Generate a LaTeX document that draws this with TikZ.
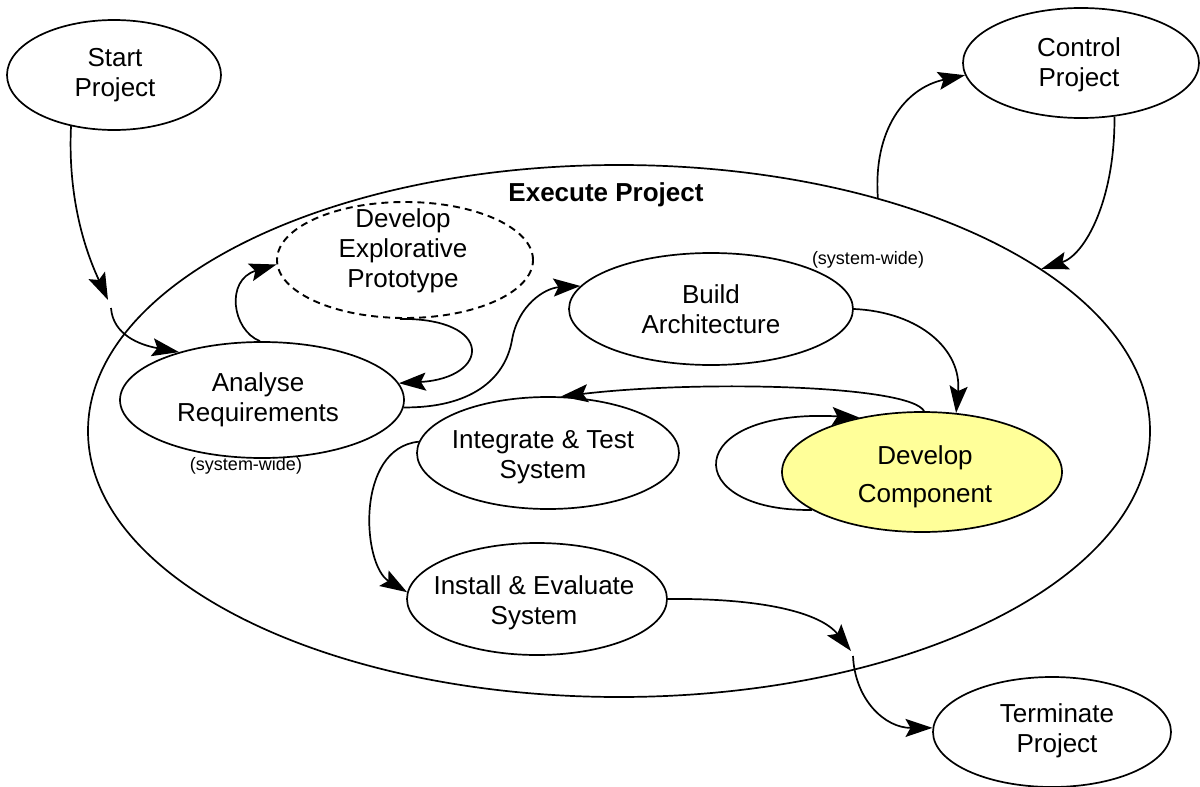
\documentclass[tikz,border=0pt]{standalone}
\usepackage{fontspec}
\setmainfont{Liberation Sans}
\usetikzlibrary{arrows.meta,shapes.geometric}
\definecolor{compyellow}{HTML}{FFFF99}
\begin{document}
\begin{tikzpicture}[x=1pt,y=-1pt,
  proc/.style={draw, ellipse, line width=1.7pt, fill=white, inner sep=0pt},
  lbl/.style={align=center, font=\fontsize{26}{30}\selectfont, inner sep=0pt},
  note/.style={font=\fontsize{18}{22}\selectfont, inner sep=0pt},
  flow/.style={line width=1.7pt, -{Stealth[length=27pt,width=18pt,inset=5pt]}}]
\useasboundingbox (0,0) rectangle (1200,787);

% enclosing process
\node[draw, ellipse, line width=1.7pt, inner sep=0pt, minimum width=1062pt, minimum height=532pt] (exec) at (619,431) {};
\node[lbl, font=\fontsize{26}{30}\selectfont\bfseries] (exec-t) at (606,195) {Execute Project};

% processes
\node[proc, minimum width=214pt, minimum height=110pt] (start) at (114,75) {};
\node[proc, minimum width=236pt, minimum height=110pt] (control) at (1081,63) {};
\node[proc, line width=1.9pt, dash pattern=on 7pt off 5pt, minimum width=256pt, minimum height=116pt] (proto) at (405,260) {};
\node[proc, minimum width=284pt, minimum height=116pt] (ana) at (262,400) {};
\node[proc, minimum width=284pt, minimum height=112pt] (build) at (711,309) {};
\node[proc, minimum width=262pt, minimum height=112pt] (integ) at (548,453) {};
\node[proc, minimum width=260pt, minimum height=112pt] (install) at (537,599) {};
\node[proc, fill=compyellow, minimum width=280pt, minimum height=120pt] (devc) at (922,472) {};
\node[proc, minimum width=238pt, minimum height=110pt] (term) at (1052,732) {};

% process texts
\node[lbl] (start-t) at (115,75) {Start\\Project};
\node[lbl] (control-t) at (1079,65) {Control\\Project};
\node[lbl] (proto-t) at (403,251) {Develop\\Explorative\\Prototype};
\node[lbl] (ana-t) at (258,400) {Analyse\\Requirements};
\node[lbl] (build-t) at (711,309) {Build\\Architecture};
\node[lbl] (integ-t) at (543,457) {Integrate \& Test\\System};
\node[lbl] (install-t) at (534,603) {Install \& Evaluate\\System};
\node[lbl, font=\fontsize{26}{38}\selectfont] (devc-t) at (925,477) {Develop\\Component};
\node[lbl] (term-t) at (1057,731) {Terminate\\Project};
\node[note] (sw1) at (868,260) {(system-wide)};
\node[note] (sw2) at (246,466) {(system-wide)};

% break points where connectors cross into or out of the project
\coordinate (g1) at (108,300);
\coordinate (g2) at (111,308);
\coordinate (g3) at (851,651);
\coordinate (g4) at (853,656);

% connectors
\draw[flow] (start.-130) .. controls (67,210) and (92,265) .. (g1);
\draw[flow] (g2) .. controls (113,335) and (140,345) .. (ana.150.8);
\draw[flow] (ana.92) .. controls (232,330) and (225,280) .. (proto.182);
\draw[flow] (proto.-95) .. controls (495,318) and (490,378) .. (ana.7);
\draw[flow] (ana.-3) .. controls (470,408) and (505,380) .. (512,340)
            .. controls (518,305) and (545,288) .. (build.170);
\draw[flow] (build.0) .. controls (920,312) and (962,350) .. (devc.60);
\draw[flow] (devc.88) .. controls (910,385) and (700,380) .. (integ.77.5);
\draw[flow] (devc.199) .. controls (680,512) and (680,408) .. (devc.139);
\draw[flow] (integ.175) .. controls (355,448) and (362,565) .. (install.177);
\draw[flow] (install.0) .. controls (760,598) and (820,612) .. (g3);
\draw[flow] (g4) .. controls (855,700) and (885,728) .. (term.178);
\draw[flow] (exec.42.4) .. controls (873,130) and (905,88) .. (control.186);
\draw[flow] (control.-58) .. controls (1115,200) and (1085,255) .. (exec.21.3);
\end{tikzpicture}
\end{document}
